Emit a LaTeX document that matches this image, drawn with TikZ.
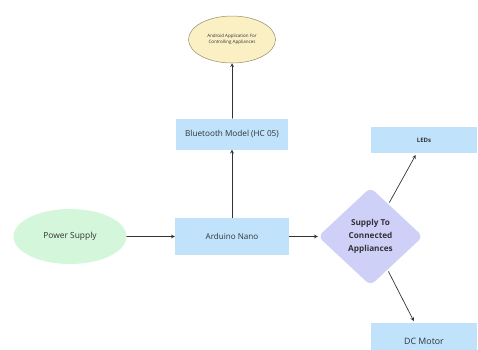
\documentclass[tikz,border=0pt]{standalone}
\usepackage{fontspec}
\setmainfont{Open Sans}
\usetikzlibrary{shapes.geometric}
\definecolor{boxblue}{RGB}{192,227,251}
\definecolor{powergreen}{RGB}{212,246,218}
\definecolor{appyellow}{RGB}{251,240,196}
\definecolor{appedge}{RGB}{150,140,110}
\definecolor{supplyviolet}{RGB}{207,208,247}
\definecolor{txt}{RGB}{50,50,55}
\tikzset{
	blockbox/.style={fill=boxblue, inner sep=0pt, text=txt},
	roundbox/.style={ellipse, inner sep=0pt, text=txt, align=center},
	decide/.style={diamond, fill=supplyviolet, rounded corners=6pt, inner sep=0pt, text=txt, align=center},
}
\begin{document}
\begin{tikzpicture}[x=1pt,y=-1pt,>=stealth, line join=round, line cap=round]
			\useasboundingbox (0,0) rectangle (478,349);
			\path
			(232,39.5)coordinate(A)
			(232,134)coordinate(B)
			(232,236.5)coordinate(N)
			(70,236.5)coordinate(P)
			(370.5,236.5)coordinate(S)
			(424,140)coordinate(L)
			(424,341)coordinate(M)
			;
			\node[roundbox, draw=appedge, line width=0.5pt, fill=appyellow, minimum width=87, minimum height=47, font=\fontsize{4.5}{5.6}\selectfont](app) at (A) {Android Application For\\Controlling Appliances};
			\node[blockbox, minimum width=112, minimum height=31, font=\fontsize{8.2}{10}\selectfont](bt) at (B) {Bluetooth Model (HC 05)};
			\node[blockbox, minimum width=114, minimum height=37, font=\fontsize{8.1}{10}\selectfont](nano) at (N) {Arduino Nano};
			\node[roundbox, fill=powergreen, minimum width=113, minimum height=55, font=\fontsize{8.4}{10}\selectfont](power) at (P) {Power Supply};
			\node[decide, minimum width=105, minimum height=98, font=\bfseries\fontsize{8.2}{13}\selectfont](supply) at (S) {Supply To\\Connected\\Appliances};
			\node[blockbox, minimum width=106, minimum height=26, font=\bfseries\fontsize{6}{8}\selectfont](leds) at (L) {LEDs};
			\node[blockbox, minimum width=106, minimum height=36, font=\fontsize{8.8}{10}\selectfont](motor) at (M) {DC Motor};
			\foreach \a/\b in {power/nano,nano/supply,nano/bt,bt/app} \draw[->, line width=0.7pt, txt](\a)--(\b);
			\foreach \b in {leds,motor} \draw[->, line width=0.7pt, txt, shorten >=2pt, shorten <=2pt](supply)--(\b);
\end{tikzpicture}
\end{document}
